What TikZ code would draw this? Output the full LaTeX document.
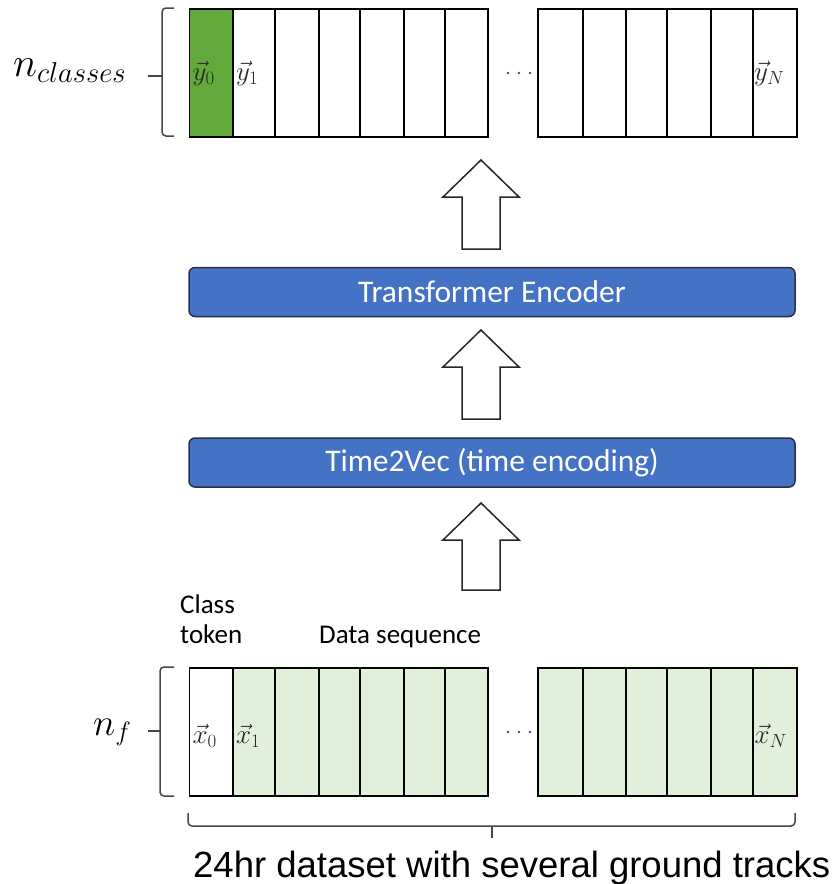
\RequirePackage{fix-cm}
\documentclass[tikz,border=0pt]{standalone}
\usepackage{fontspec}
\setmainfont{Carlito}
\newfontfamily\capfont{Liberation Sans}
\definecolor{dkgreen}{RGB}{99,168,58}
\definecolor{ltgreen}{RGB}{226,239,218}
\definecolor{boxblue}{RGB}{68,114,196}
\definecolor{boxedge}{RGB}{40,48,66}
\definecolor{bracegray}{RGB}{70,70,70}
\definecolor{dotcol}{RGB}{60,80,120}
\newcommand{\blockarrow}[4]{% name, x, tip y, bottom y
  \coordinate (#1) at (#2,#3);
  \draw[blockarr] ($(#1)+(-19,#4-#3)$) -- ($(#1)+(-19,37)$) -- ($(#1)+(-38,37)$)
    -- (#1) -- ($(#1)+(38,37)$) -- ($(#1)+(19,37)$) -- ($(#1)+(19,#4-#3)$) -- cycle;}
\usetikzlibrary{calc}
\begin{document}
\begin{tikzpicture}[x=1pt,y=-1pt,
  cellbox/.style={draw=black, line width=1.6pt, inner sep=0pt, outer sep=0pt, anchor=north west},
  bluebox/.style={draw=boxedge, fill=boxblue, line width=1.5pt, rounded corners=6pt,
     minimum width=606pt, minimum height=49pt, inner sep=0pt, text=white,
     font=\fontsize{31.5}{31.5}\selectfont},
  blockarr/.style={draw=black!85, fill=white, line width=1.5pt, line join=miter},
  bracestyle/.style={draw=bracegray, line width=1.5pt, rounded corners=4pt},
  veclbl/.style={anchor=west, inner sep=0pt, text=black!85, font=\fontsize{27}{27}\selectfont},
  lbl/.style={inner sep=0pt, font=\fontsize{27}{30}\selectfont},
  dimlbl/.style={inner sep=0pt, anchor=base west, font=\fontsize{38}{38}\selectfont}]
\useasboundingbox (0,0) rectangle (840,884);

% top row
\foreach \a/\b/\c [count=\i] in {189.5/233/dkgreen,233/275/white,275/319/white,319/360/white,360/404/white,404/445/white,445/488/white}{
  \pgfmathsetmacro{\w}{\b-\a}
  \node[cellbox, fill=\c, minimum width=\w pt, minimum height=128pt] (ta\i) at (\a,9) {};
}
\foreach \a/\b [count=\i] in {538/583,583/626,626/667,667/711,711/753,753/797}{
  \pgfmathsetmacro{\w}{\b-\a}
  \node[cellbox, fill=white, minimum width=\w pt, minimum height=128pt] (tb\i) at (\a,9) {};
}
\node[veclbl] (y0) at ($(ta1.west)+(3,0)$) {$\vec{y}_0$};
\node[veclbl] (y1) at ($(ta2.west)+(3,0)$) {$\vec{y}_1$};
\node[veclbl] (yN) at ($(tb6.west)+(1,0)$) {$\vec{y}_N$};
\foreach \x [count=\i] in {508,519,530} \fill[dotcol] (\x,73) circle (1.3) coordinate (td\i);

% bottom row
\foreach \a/\b/\c [count=\i] in {189.5/233/white,233/275/ltgreen,275/319/ltgreen,319/360/ltgreen,360/404/ltgreen,404/445/ltgreen,445/488/ltgreen}{
  \pgfmathsetmacro{\w}{\b-\a}
  \node[cellbox, fill=\c, minimum width=\w pt, minimum height=128pt] (ba\i) at (\a,668) {};
}
\foreach \a/\b [count=\i] in {538/583,583/626,626/667,667/711,711/753,753/797}{
  \pgfmathsetmacro{\w}{\b-\a}
  \node[cellbox, fill=ltgreen, minimum width=\w pt, minimum height=128pt] (bb\i) at (\a,668) {};
}
\node[veclbl] (x0) at ($(ba1.west)+(3,4)$) {$\vec{x}_0$};
\node[veclbl] (x1) at ($(ba2.west)+(3,4)$) {$\vec{x}_1$};
\node[veclbl] (xN) at ($(bb6.west)+(1.5,4)$) {$\vec{x}_N$};
\foreach \x [count=\i] in {508,519,530} \fill[dotcol] (\x,732) circle (1.3) coordinate (bd\i);

% blue boxes
\node[bluebox] (enc) at (492,292) {Transformer Encoder};
\node[bluebox] (t2v) at (492,462.5) {Time2Vec (time encoding)};

% block arrows
\blockarrow{arA}{481}{160}{249}
\blockarrow{arB}{481}{330}{419}
\blockarrow{arC}{481}{503}{590}

% braces
\draw[bracestyle] (174,8) -- (162,8) -- (162,136) -- (174,136);
\draw[bracestyle] (162,76) -- (148,76);
\draw[bracestyle] (174,667) -- (160,667) -- (160,796) -- (174,796);
\draw[bracestyle] (160,731) -- (148,731);
\draw[bracestyle] (188,813) -- (188,826) -- (795,826) -- (795,813);
\draw[bracestyle] (492,826) -- (492,838);

% labels
\node[dimlbl, font=\fontsize{41}{41}\selectfont] (ncl) at (13,76) {$n_{classes}$};
\node[dimlbl] (nf) at (93,735) {$n_f$};
\node[lbl, anchor=base west] (ctok) at (180,613) {\begin{tabular}[t]{@{}l@{}}Class\\token\end{tabular}};
\node[lbl, anchor=base west] (dseq) at (319,643) {Data sequence};
\node[inner sep=0pt, anchor=base west, font=\capfont\fontsize{36.5}{36.5}\selectfont] (cap) at (193,877) {24hr dataset with several ground tracks};
\end{tikzpicture}
\end{document}
